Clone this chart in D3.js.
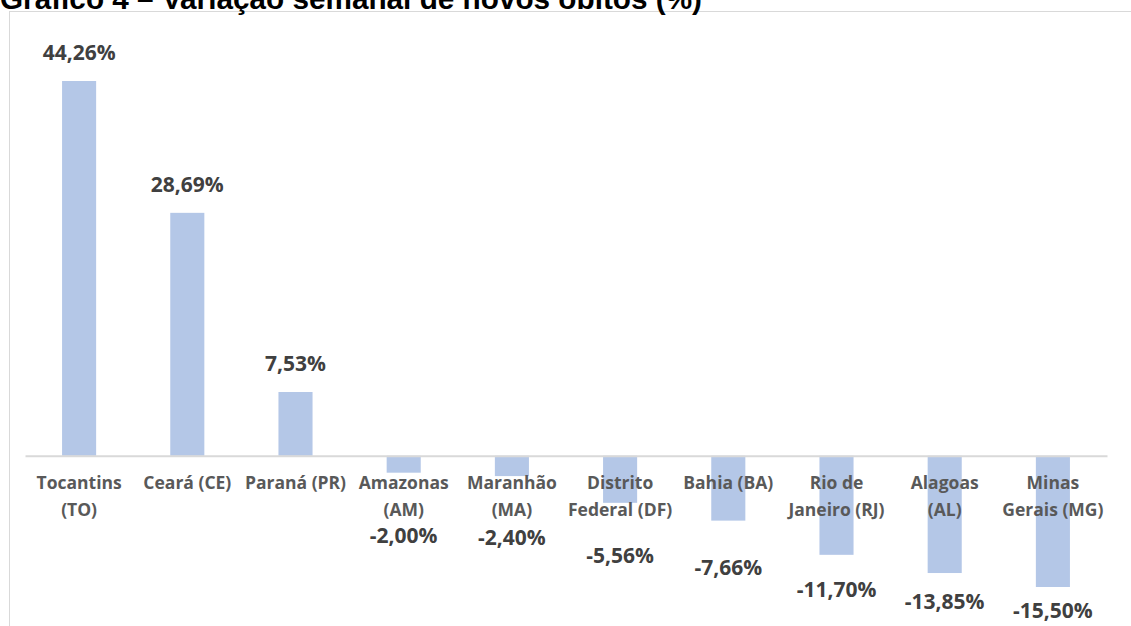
<!DOCTYPE html>
<html>
<head>
<meta charset="utf-8">
<script src="https://cdn.jsdelivr.net/npm/d3@7"></script>
<style>
  body { margin: 0; background: #fff; }
  svg { display: block; }
</style>
</head>
<body>
<div id="chart"></div>
<script>
var states = ["Tocantins (TO)", "Ceará (CE)", "Paraná (PR)", "Amazonas (AM)", "Maranhão (MA)",
    "Distrito Federal (DF)", "Bahia (BA)", "Rio de Janeiro (RJ)", "Alagoas (AL)", "Minas Gerais (MG)"];
// category label lines as they wrap in the picture
var stateLines = [["Tocantins", "(TO)"], ["Ceará (CE)"], ["Paraná (PR)"], ["Amazonas", "(AM)"],
    ["Maranhão", "(MA)"], ["Distrito", "Federal (DF)"], ["Bahia (BA)"], ["Rio de", "Janeiro (RJ)"],
    ["Alagoas", "(AL)"], ["Minas", "Gerais (MG)"]];
var variation = [44.26, 28.69, 7.53, -2.00, -2.40, -5.56, -7.66, -11.70, -13.85, -15.50];

var width = 1131, height = 626;
var margin = {top: 11, left: 25, right: 24};

var svg = d3.select("#chart").append("svg")
    .attr("width", width)
    .attr("height", height);

// chart frame
svg.append("rect")
    .attr("x", 9.5).attr("y", 11.5)
    .attr("width", width + 10).attr("height", height + 10)
    .attr("fill", "none")
    .attr("stroke", "#d9d9d9");

// title, partly cut at the top like the source image
svg.append("text")
    .attr("x", 0).attr("y", 9)
    .attr("textLength", 702)
    .attr("lengthAdjust", "spacingAndGlyphs")
    .style("font-family", "'Liberation Sans', Arial, sans-serif")
    .style("font-weight", "bold")
    .style("font-size", "29px")
    .attr("fill", "#000")
    .text("Gráfico 4 – Variação semanal de novos óbitos (%)");

var x = d3.scaleBand()
    .domain(states)
    .range([margin.left, width - margin.right])
    .paddingInner(0.685)
    .paddingOuter(0.3425);

var y = d3.scaleLinear()
    .domain([-15.5, 44.26])
    .range([587, 81]);

var g = svg.append("g");

g.selectAll(".bar")
    .data(variation)
    .enter().append("rect")
    .attr("class", "bar")
    .attr("x", function(d, i) { return x(states[i]); })
    .attr("width", x.bandwidth())
    .attr("y", function(d) { return y(Math.max(0, d)); })
    .attr("height", function(d) { return Math.abs(y(d) - y(0)); })
    .attr("fill", "#b4c7e7");

// zero line
var axis = g.append("g")
    .attr("transform", "translate(0," + y(0) + ")")
    .call(d3.axisBottom(x).tickSize(0).tickFormat(""));
axis.select(".domain").attr("stroke", "#d9d9d9").attr("stroke-width", 2);

// category labels
var cat = g.selectAll(".cat")
    .data(stateLines)
    .enter().append("text")
    .attr("class", "cat")
    .attr("text-anchor", "middle")
    .attr("x", function(d, i) { return x(states[i]) + x.bandwidth() / 2; })
    .attr("y", y(0) + 33)
    .style("font-family", "'Open Sans', sans-serif")
    .style("font-weight", "bold")
    .style("font-size", "17.5px")
    .attr("fill", "#595959");
cat.selectAll("tspan")
    .data(function(d) { return d; })
    .enter().append("tspan")
    .attr("x", function() { return this.parentNode.getAttribute("x"); })
    .attr("dy", function(d, j) { return j === 0 ? 0 : 27; })
    .text(function(d) { return d; });

// value labels: above positive bars, pushed below the category labels for negative ones
var fmt = function(v) { return v.toFixed(2).replace(".", ",") + "%"; };
g.selectAll(".val")
    .data(variation)
    .enter().append("text")
    .attr("class", "val")
    .attr("text-anchor", "middle")
    .attr("x", function(d, i) { return x(states[i]) + x.bandwidth() / 2; })
    .attr("y", function(d) {
        if (d >= 0) return y(d) - 21;
        return y(0) + 69 + 0.66 * (y(d) - y(0)) + 7;
    })
    .style("font-family", "'Open Sans', sans-serif")
    .style("font-weight", "bold")
    .style("font-size", "21px")
    .attr("fill", "#404040")
    .text(fmt);
</script>
</body>
</html>
